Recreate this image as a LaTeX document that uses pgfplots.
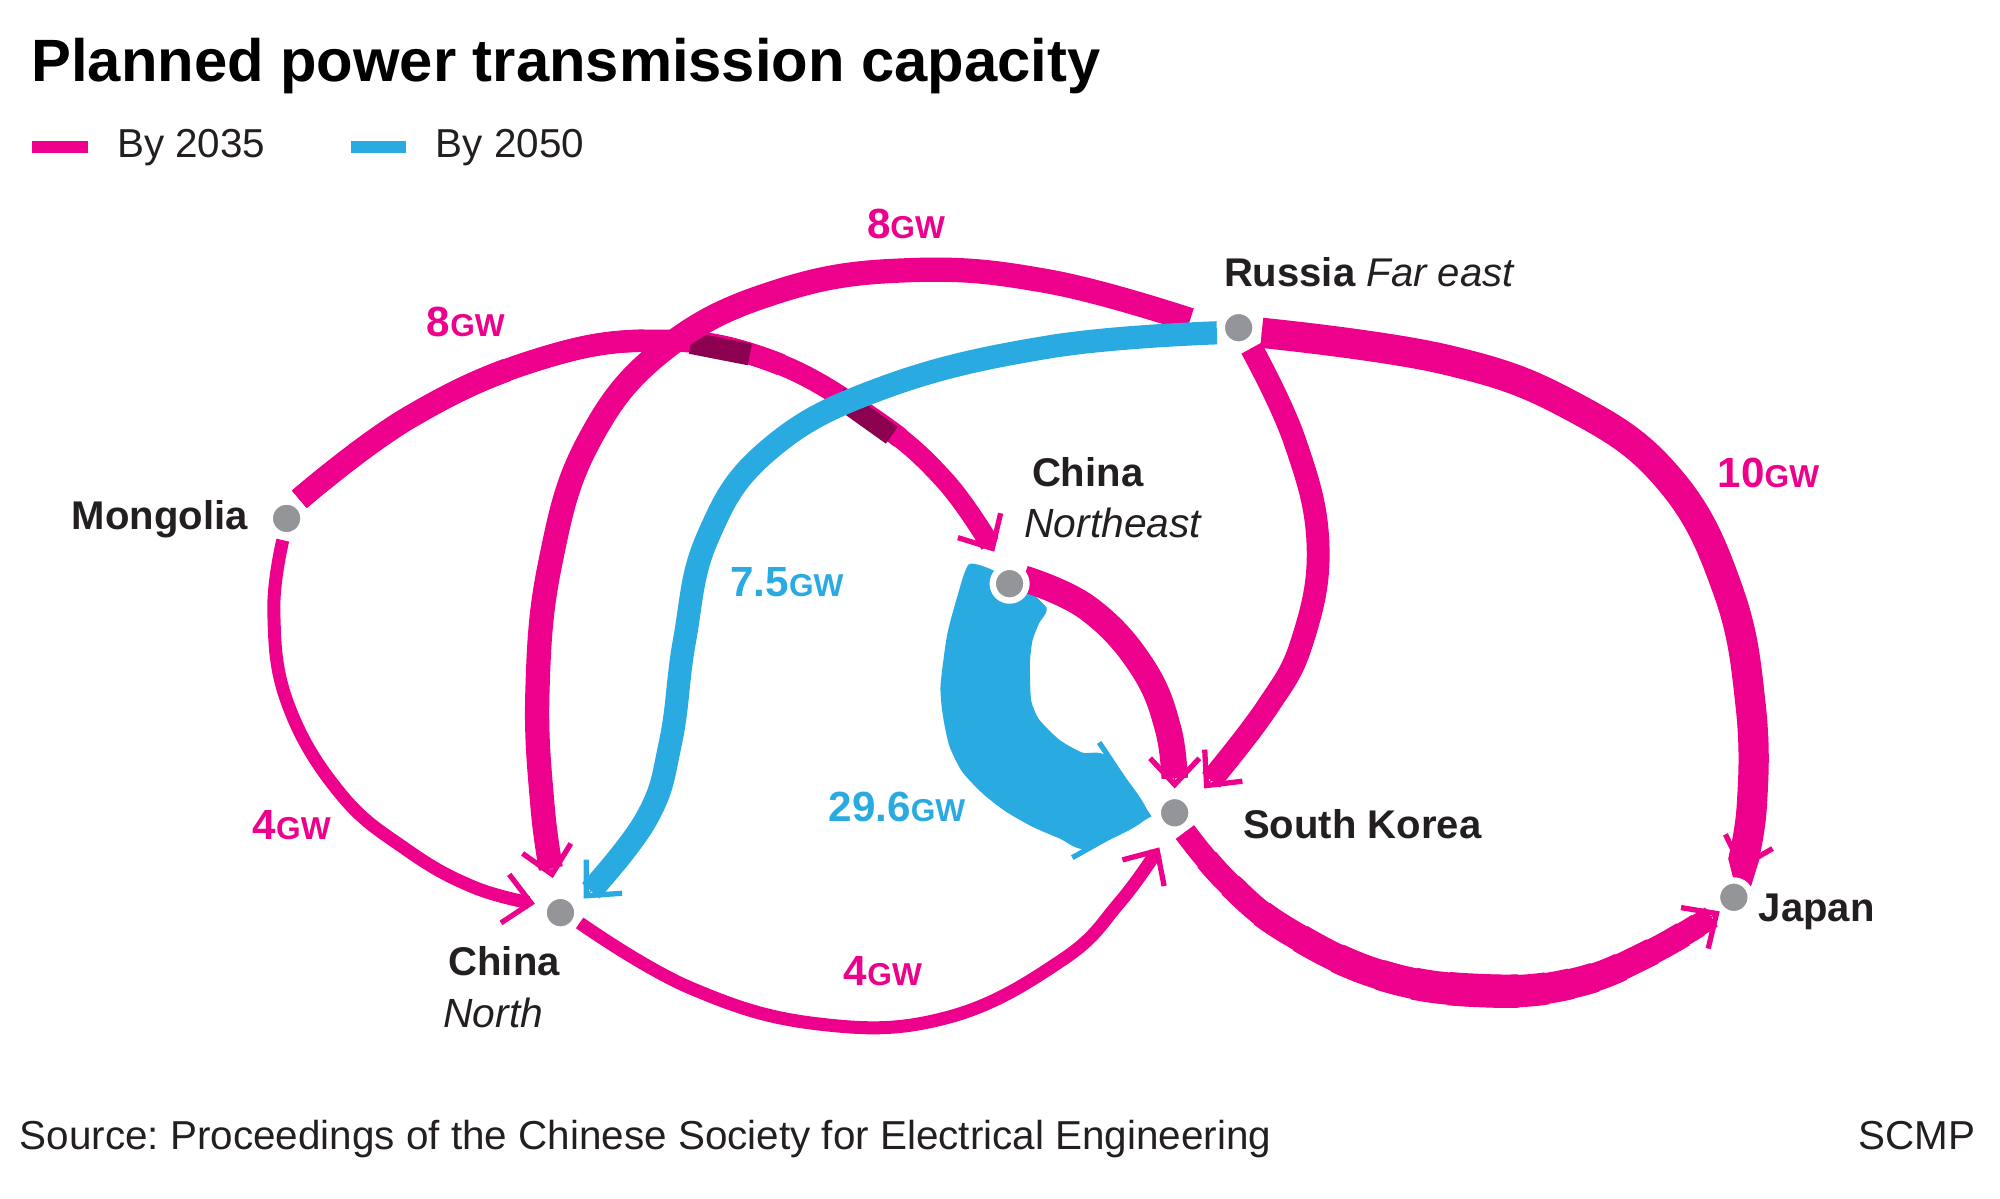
\documentclass[border=0pt]{standalone}
\usepackage{fontspec}
\setmainfont{Liberation Sans}
\usepackage{pgfplots}
\usepackage{pgfplotstable}
\pgfplotsset{compat=1.18}
\usetikzlibrary{arrows.meta}

\definecolor{pk}{HTML}{EC008C}
\definecolor{bl}{HTML}{29ABE2}
\definecolor{nd}{HTML}{939598}
\definecolor{dk}{HTML}{8C0050}
\definecolor{txt}{HTML}{231F20}

% flow centre lines, in picture pixels (y downwards)
\pgfplotstableread{
x y
234 390
320 326
420 281
513 266
600 281
681 326
738 375
777 431
}\mongne
\pgfplotstableread{
x y
930 250
820 220
713 211
610 227
520 272
460 345
430 440
420 540
424 630
432 686
}\ruscn
\pgfplotstableread{
x y
951 260
820 271
690 303
600 352
553 420
535 500
524 580
505 640
456 702
}\rusblue
\pgfplotstableread{
x y
221 422
214 479
225 550
266 620
318 664
370 693
418 706
}\mongcn
\pgfplotstableread{
x y
453 721
540 772
640 800
740 795
830 750
875 705
906 662
}\cnsk
\pgfplotstableread{
x y
800 452
850 475
892 520
913 570
918 616
}\nesk
\pgfplotstableread{
x y
978 272
1012 345
1030 425
1018 500
990 553
941 616
}\russk
\pgfplotstableread{
x y
986 260
1130 281
1230 318
1305 375
1350 460
1368 550
1369 630
1360 680
}\rusjp
\pgfplotstableread{
x y
926 650
960 690
1006 727
1080 762
1160 774
1230 768
1290 744
1344 712
}\skjp
% the 29.6GW band, outline
\pgfplotstableread{
x y
775 445
757 441
747 470
740 497
735 536
737 560
742 583
752 603
768 620
786 634
807 646
828 655
849 663
897 637
865 591
846 588
828 578
812 562
806 548
805 531
805 515
807 500
812 487
818 475
800 458
}\bigblue

\pgfplotsset{
  % thick shaft, stopped just short of the tip
  body/.style 2 args={smooth, tension=0.7, line cap=butt, line width=#1, shorten >=#2},
  % open chevron at the very end
  barb/.style={smooth, tension=0.7, line width=0.4pt,
    -{Straight Barb[length=7.5pt,width=14pt,line width=1.5pt]}},
  band/.style={smooth, tension=0.7, line cap=butt},
}
\tikzset{
  lab/.style={inner sep=0pt, text=txt},
  name/.style={lab, font=\fontsize{11.4}{14}\selectfont\bfseries},
  sub/.style={lab, font=\fontsize{11.6}{14}\selectfont\itshape},
}
% value labels: big number, small GW
\newcommand\gw[1]{{\fontsize{12}{14}\selectfont\bfseries #1}{\fontsize{9}{11}\selectfont\bfseries GW}}
\frenchspacing

\begin{document}
\begin{tikzpicture}
\begin{axis}[
    width=20cm, height=11.99cm, scale only axis,
    xmin=0, xmax=1563, ymin=0, ymax=936.7,
    y dir=reverse, hide axis, clip=false,
]
% keep the whole frame in the picture
\addplot[draw=none] coordinates {(0,0) (1563,936.7)};

% Mongolia -> China Northeast (8GW), under the others
\addplot[pk, body={5.7pt}{3pt}] table {\mongne};
\addplot[pk, barb] table {\mongne};
\addplot[pk, band, line width=5.95pt, dash pattern=on 190pt off 3000pt] table {\mongne};
\addplot[pk, band, line width=6.2pt, dash pattern=on 150pt off 3000pt] table {\mongne};
\addplot[pk, band, line width=6.4pt, dash pattern=on 110pt off 3000pt] table {\mongne};
\addplot[pk, band, line width=6.6pt, dash pattern=on 70pt off 3000pt] table {\mongne};
% shadows where lines pass over it
\addplot[dk, line width=6.2pt] coordinates {(540,268) (586,277)};
\addplot[dk, line width=5.9pt] coordinates {(655,310) (697,340)};

% Russia -> China North (8GW)
\addplot[pk, body={6.9pt}{3.6pt}] table {\ruscn};
\addplot[pk, barb] table {\ruscn};

% Russia -> China North (7.5GW, 2050)
\addplot[bl, body={6.6pt}{3.5pt}] table {\rusblue};
\addplot[bl, barb] table {\rusblue};

% Mongolia -> China North (4GW)
\addplot[pk, body={3.7pt}{2pt}] table {\mongcn};
\addplot[pk, barb] table {\mongcn};

% China North -> South Korea (4GW)
\addplot[pk, body={3.7pt}{2pt}] table {\cnsk};
\addplot[pk, barb] table {\cnsk};

% China Northeast -> South Korea (29.6GW, 2050)
\addplot[fill=bl, draw=none, smooth, tension=0.4] table {\bigblue} -- cycle;
\addplot[bl, line width=1.5pt] coordinates {(838,670) (897,637) (859,580)};

% China Northeast -> South Korea (2035)
\addplot[pk, body={7.5pt}{4pt}] table {\nesk};
\addplot[pk, barb] table {\nesk};

% Russia -> South Korea
\addplot[pk, body={6.5pt}{3.5pt}] table {\russk};
\addplot[pk, barb] table {\russk};

% Russia -> Japan (10GW)
\addplot[pk, body={8.6pt}{4.6pt}] table {\rusjp};
\addplot[pk, barb] table {\rusjp};

% South Korea -> Japan, widest at the bottom
\addplot[pk, body={6.5pt}{3.5pt}] table {\skjp};
\addplot[pk, barb] table {\skjp};
\addplot[pk, band, line width=6.9pt, dash pattern=on 155pt off 3000pt, dash phase=3145pt] table {\skjp};
\addplot[pk, band, line width=7.3pt, dash pattern=on 140pt off 3000pt, dash phase=3120pt] table {\skjp};
\addplot[pk, band, line width=7.7pt, dash pattern=on 118pt off 3000pt, dash phase=3086pt] table {\skjp};
\addplot[pk, band, line width=8.1pt, dash pattern=on 95pt off 3000pt, dash phase=3050pt] table {\skjp};
\addplot[pk, band, line width=8.5pt, dash pattern=on 75pt off 3000pt, dash phase=3018pt] table {\skjp};
\addplot[pk, band, line width=8.8pt, dash pattern=on 55pt off 3000pt, dash phase=2985pt] table {\skjp};
\addplot[pk, band, line width=9.2pt, dash pattern=on 38pt off 3000pt, dash phase=2958pt] table {\skjp};
\addplot[pk, band, line width=9.5pt, dash pattern=on 20pt off 3000pt, dash phase=2930pt] table {\skjp};

% places
\addplot[only marks, mark=*, mark size=4.8pt,
  mark options={fill=nd, draw=white, line width=1.8pt}] coordinates {
  (224,405) (438,713) (789,456) (968,256) (918,635) (1355,701)};

% legend
\addplot[pk, line width=3.3pt] coordinates {(25,115) (69,115)};
\addplot[bl, line width=3.3pt] coordinates {(274,115) (317,115)};

% texts
\node[lab, anchor=base west, text=black, font=\fontsize{17}{20}\selectfont\bfseries]
  at (axis cs:24,64) {Planned power transmission capacity};
\node[lab, anchor=west, font=\fontsize{11.5}{14}\selectfont] at (axis cs:91,115) {By 2035};
\node[lab, anchor=west, font=\fontsize{11.5}{14}\selectfont] at (axis cs:340,115) {By 2050};

\node[name, anchor=base east] at (axis cs:194,414) {Mongolia};
\node[name, anchor=base west] at (axis cs:956,224) {Russia \mdseries\itshape Far east};
\node[name, anchor=base west] at (axis cs:806,380) {China};
\node[sub,  anchor=base west] at (axis cs:800,420) {Northeast};
\node[name, anchor=base west] at (axis cs:971,655) {South Korea};
\node[name, anchor=base west] at (axis cs:1374,720) {Japan};
\node[name, anchor=base west] at (axis cs:350,762) {China};
\node[sub,  anchor=base west] at (axis cs:346,803) {North};

\node[lab, anchor=base, text=pk] at (axis cs:708,186) {\gw{8}};
\node[lab, anchor=base, text=pk] at (axis cs:364,263) {\gw{8}};
\node[lab, anchor=base, text=pk] at (axis cs:1382,381) {\gw{10}};
\node[lab, anchor=base, text=bl] at (axis cs:615,466) {\gw{7.5}};
\node[lab, anchor=base, text=bl] at (axis cs:701,642) {\gw{29.6}};
\node[lab, anchor=base, text=pk] at (axis cs:228,656) {\gw{4}};
\node[lab, anchor=base, text=pk] at (axis cs:690,770) {\gw{4}};

\node[lab, anchor=base west, font=\fontsize{11.5}{14}\selectfont] at (axis cs:15,898)
  {Source: Proceedings of the Chinese Society for Electrical Engineering};
\node[lab, anchor=base east, font=\fontsize{11.5}{14}\selectfont] at (axis cs:1544,898) {SCMP};
\end{axis}
\end{tikzpicture}
\end{document}
